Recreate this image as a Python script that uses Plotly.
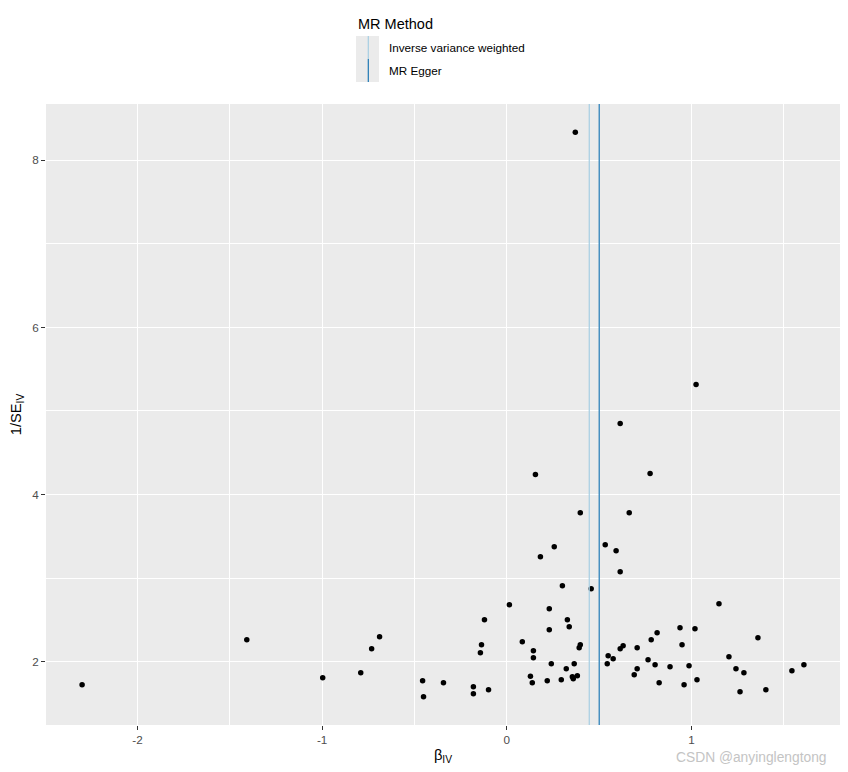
import plotly.graph_objects as go

# ---- data ----
beta_iv = [
    -2.300, -1.408, -0.997, -0.791, -0.732, -0.689, -0.456, -0.451, -0.343, -0.181,
    -0.181, -0.099, -0.121, -0.137, -0.143, 0.014, 0.084, 0.144, 0.144, 0.128,
    0.138, 0.219, 0.230, 0.230, 0.241, 0.257, 0.182, 0.155, 0.295, 0.301,
    0.322, 0.328, 0.338, 0.355, 0.360, 0.365, 0.382, 0.392, 0.398, 0.398,
    0.371, 0.457, 0.533, 0.544, 0.549, 0.576, 0.592, 0.614, 0.614, 0.630,
    0.614, 0.663, 0.690, 0.706, 0.706, 0.765, 0.776, 0.782, 0.803, 0.814,
    0.825, 0.884, 0.938, 0.949, 0.960, 0.987, 1.019, 1.030, 1.025, 1.149,
    1.203, 1.241, 1.263, 1.284, 1.360, 1.403, 1.544, 1.609,
]
inv_se_iv = [
    1.725, 2.263, 1.808, 1.868, 2.156, 2.299, 1.772, 1.581, 1.749, 1.701,
    1.617, 1.665, 2.503, 2.204, 2.108, 2.683, 2.240, 2.132, 2.048, 1.826,
    1.749, 1.772, 2.635, 2.383, 1.976, 3.377, 3.257, 4.240, 1.784, 2.910,
    1.916, 2.503, 2.419, 1.820, 1.796, 1.976, 1.832, 2.168, 2.204, 3.784,
    8.335, 2.874, 3.401, 1.976, 2.072, 2.036, 3.329, 3.078, 2.156, 2.192,
    4.850, 3.784, 1.844, 1.916, 2.168, 2.024, 4.252, 2.263, 1.964, 2.347,
    1.749, 1.940, 2.407, 2.204, 1.725, 1.952, 2.395, 1.784, 5.317, 2.695,
    2.060, 1.916, 1.641, 1.868, 2.287, 1.665, 1.892, 1.964,
]
methods = ["Inverse variance weighted", "MR Egger"]
method_estimates = [0.4465, 0.5005]
method_colors = ["#A6CEE3", "#1F78B4"]

x_ticks = [-2, -1, 0, 1]
y_ticks = [2, 4, 6, 8]

# ---- figure geometry (page has an 8px body margin) ----
OFF = 8
W, H = 848 - OFF, 772 - OFF
ML, MT = 46 - OFF, 104 - OFF
MR = 8
MB = H - (725 - OFF)
PW, PH = W - ML - MR, H - MT - MB


def px2paper(px, py):
    """page pixel -> paper coords"""
    fx, fy = px - OFF, py - OFF
    return (fx - ML) / PW, (H - MB - fy) / PH


def expand(vals, f=0.05):
    lo, hi = min(vals), max(vals)
    d = (hi - lo) * f
    return [lo - d, hi + d]


FONT = "Liberation Sans, Arial, sans-serif"

fig = go.Figure()

fig.add_trace(go.Scatter(
    x=beta_iv, y=inv_se_iv, mode="markers",
    marker=dict(color="black", size=5.5, line=dict(width=0)),
    showlegend=False, hoverinfo="x+y",
))

for m, v, c in zip(methods, method_estimates, method_colors):
    fig.add_shape(type="line", xref="x", yref="y domain", x0=v, x1=v, y0=0, y1=1,
                  line=dict(color=c, width=1.2), layer="above")

# ---- manual ggplot-style legend ----
shapes = []
annots = []
tx, ty = px2paper(356, 24)
annots.append(dict(text="MR Method", x=tx, y=ty, xref="paper", yref="paper",
                   xanchor="left", yanchor="middle", showarrow=False,
                   font=dict(family=FONT, size=14.5, color="black")))
key_top = 36
key_h = 23
for i, (m, c) in enumerate(zip(methods, method_colors)):
    y0p = key_top + i * key_h
    y1p = y0p + key_h
    x0, yb = px2paper(356, y1p)
    x1, yt = px2paper(379, y0p)
    shapes.append(dict(type="rect", xref="paper", yref="paper", x0=x0, x1=x1, y0=yb, y1=yt,
                       fillcolor="#EBEBEB", line=dict(width=0), layer="above"))
    lx, _ = px2paper(368.3, 0)
    shapes.append(dict(type="line", xref="paper", yref="paper", x0=lx, x1=lx, y0=yb, y1=yt,
                       line=dict(color=c, width=1.2), layer="above"))
    ax, ay = px2paper(387, (y0p + y1p) / 2)
    annots.append(dict(text=m, x=ax, y=ay, xref="paper", yref="paper",
                       xanchor="left", yanchor="middle", showarrow=False,
                       font=dict(family=FONT, size=11.7, color="black")))

wx, wy = px2paper(829, 757)
annots.append(dict(text="CSDN @anyinglengtong", x=wx, y=wy, xref="paper", yref="paper",
                   xanchor="right", yanchor="middle", showarrow=False,
                   font=dict(family=FONT, size=13.8, color="#C4C4C4")))

for s in shapes:
    fig.add_shape(**s)

fig.update_layout(
    width=W, height=H,
    margin=dict(l=ML, r=MR, t=MT, b=MB, pad=0, autoexpand=False),
    paper_bgcolor="white", plot_bgcolor="#EBEBEB",
    font=dict(family=FONT, color="#4D4D4D"),
    showlegend=False,
    annotations=annots,
)

fig.update_xaxes(
    range=expand(beta_iv), tickvals=x_ticks, ticktext=[str(t) for t in x_ticks],
    automargin=False,
    showgrid=True, gridcolor="white", gridwidth=1.1,
    minor=dict(dtick=0.5, tick0=0, showgrid=True, gridcolor="white", gridwidth=0.6, ticklen=0),
    zeroline=False, showline=False,
    ticks="outside", ticklen=4, tickcolor="#333333", tickwidth=1,
    tickfont=dict(family=FONT, size=11.7, color="#4D4D4D"),
    title=dict(text="β<sub>IV</sub>", font=dict(family=FONT, size=14.7, color="black"), standoff=4),
)
fig.update_yaxes(
    range=expand(inv_se_iv), tickvals=y_ticks, ticktext=[str(t) for t in y_ticks],
    automargin=False,
    showgrid=True, gridcolor="white", gridwidth=1.1,
    minor=dict(dtick=1, tick0=0, showgrid=True, gridcolor="white", gridwidth=0.6, ticklen=0),
    zeroline=False, showline=False,
    ticks="outside", ticklen=4, tickcolor="#333333", tickwidth=1,
    tickfont=dict(family=FONT, size=11.7, color="#4D4D4D"),
    title=dict(text="1/SE<sub>IV</sub>", font=dict(family=FONT, size=14.7, color="black"), standoff=8),
)

fig.write_html("out.html")
